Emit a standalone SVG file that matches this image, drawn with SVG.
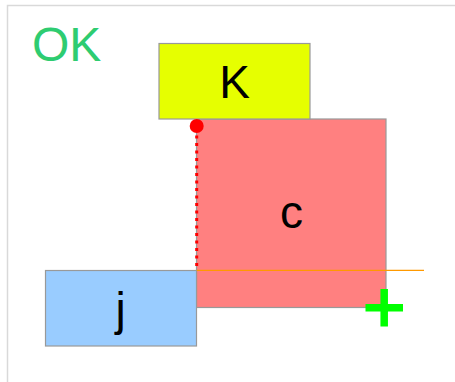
<svg xmlns="http://www.w3.org/2000/svg" width="455" height="382" viewBox="0 0 455 382">
  <style>
    .frame { fill: #ffffff; stroke: #d9d9d9; stroke-width: 1.5; }
    .box { stroke: #999999; stroke-width: 1.2; }
    .lbl { font-family: "Liberation Sans", Arial, sans-serif; font-size: 46px; fill: #000000; text-anchor: middle; }
    .title { font-family: "Liberation Sans", Arial, sans-serif; font-size: 48px; fill: #2ecc71; }
  </style>
  <rect x="0" y="0" width="455" height="382" fill="#ffffff"/>
  <rect class="frame" x="7.5" y="5.5" width="460" height="400"/>
  <text class="title" x="32" y="61">OK</text>

  <g id="node-c">
    <rect class="box" x="196.5" y="119" width="189.5" height="188.5" fill="#ff8080"/>
    <text class="lbl" x="291.5" y="228">c</text>
  </g>
  <g id="node-K">
    <rect class="box" x="159" y="43.5" width="151" height="75.5" fill="#e6ff00"/>
    <text class="lbl" x="234.5" y="98">K</text>
  </g>
  <g id="node-j">
    <rect class="box" x="45.5" y="270.5" width="151" height="75.5" fill="#99ccff"/>
    <text class="lbl" x="120.5" y="325">j</text>
  </g>

  <g id="connectors">
    <line x1="196.7" y1="128" x2="196.7" y2="270" stroke="#ff0000" stroke-width="3" stroke-dasharray="3,4.5"/>
    <circle cx="196.7" cy="126" r="7" fill="#ff0000"/>
    <line x1="196.7" y1="270.3" x2="424" y2="270.3" stroke="#ff9900" stroke-width="1.2"/>
    <path d="M365.5 307.7 H403 M384.2 289 V326.5" stroke="#00ff00" stroke-width="7.5" fill="none"/>
  </g>
</svg>
